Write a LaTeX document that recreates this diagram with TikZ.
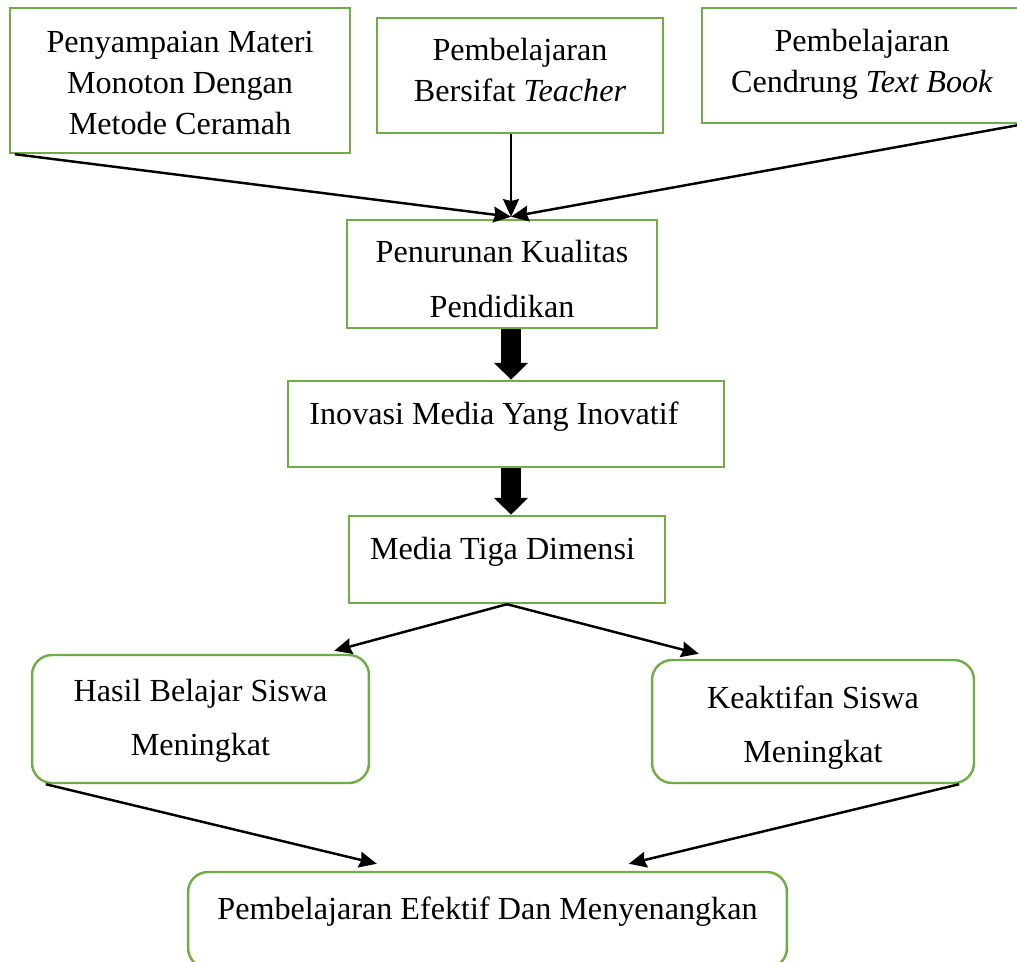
\documentclass[tikz,border=0pt]{standalone}
\usepackage{fontspec}
\setmainfont{Liberation Serif}
\usepackage{tikz}
\usetikzlibrary{arrows.meta,calc,positioning}

\definecolor{boxgreen}{RGB}{112,173,71}

\begin{document}
\begin{tikzpicture}[x=0.02cm, y=-0.02cm,
    box/.style={draw=boxgreen, line width=1.4pt, align=center, inner sep=0pt,
                text height=0.44cm, font=\fontsize{18.3}{23.5}\selectfont},
    wide/.style={font=\fontsize{18.3}{31.3}\selectfont},
    rbox/.style={box, wide, rounded corners=0.4cm},
    thin/.style={line width=1.4pt, -{Stealth[length=10pt,width=9pt,inset=1pt]}},
    fat/.style={line width=0.4cm, -{Triangle[length=0.34cm,width=0.66cm]}}]
                \clip (0,0) rectangle (1017,962);
                \node[box, minimum width=6.8cm, minimum height=2.9cm, text height=2.38cm, text depth=0.2cm] (materi) at (180,80.5) {Penyampaian Materi\\Monoton Dengan\\Metode Ceramah};
                \node[box, minimum width=5.72cm, minimum height=2.3cm, text height=1.26cm, text depth=0.2cm] (teacher) at (520,75.5) {Pembelajaran\\Bersifat \textit{Teacher}};
                \node[box, minimum width=6.4cm, minimum height=2.3cm, text height=1.30cm, text depth=0.2cm] (textbook) at (862,65.5) {Pembelajaran\\Cendrung \textit{Text Book}};
                \node[box, wide, minimum width=6.2cm, minimum height=2.16cm, text height=1.94cm, text depth=0.2cm] (kualitas) at (502,274) {Penurunan Kualitas\\Pendidikan};
                \node[box, minimum width=8.72cm, minimum height=1.72cm, text depth=0.40cm] (inovasi) at (506,424) {Inovasi Media Yang Inovatif\hspace*{0.48cm}};
                \node[box, minimum width=6.32cm, minimum height=1.74cm, text depth=0.46cm] (media) at (507,559.5) {Media Tiga Dimensi\hspace*{0.18cm}};
                \node[rbox, minimum width=6.74cm, minimum height=2.56cm, text height=1.68cm, text depth=0.2cm] (hasil) at (200.5,719) {Hasil Belajar Siswa\\Meningkat};
                \node[rbox, minimum width=6.44cm, minimum height=2.46cm, text height=1.86cm, text depth=0.2cm] (aktif) at (813,721.5) {Keaktifan Siswa\\Meningkat};
                \node[rbox, minimum width=11.98cm, minimum height=1.92cm, text depth=0.48cm] (efektif) at (487.5,920) {Pembelajaran Efektif Dan Menyenangkan};

                \coordinate (meet) at ($(kualitas.north)+(9,-2)$);

                \draw[thin] ($(materi.south west)+(6,0)$) -- (meet);
                \draw[thin] (teacher.south -| meet) -- (meet);
                \draw[thin] (textbook.south east) -- (meet);
                \draw[fat] (kualitas.south -| meet) -- (inovasi.north -| meet);
                \draw[fat] (inovasi.south -| meet) -- (media.north -| meet);
                \draw[thin] (media.south) -- ($(hasil.north east)+(-36,-3)$);
                \draw[thin] (media.south) -- ($(aktif.north west)+(48,-5)$);
                \draw[thin] ($(hasil.south west)+(15,0)$) -- ($(efektif.north west)+(190,-7)$);
                \draw[thin] ($(aktif.south east)+(-16,0)$) -- ($(efektif.north west)+(442,-7)$);
            \end{tikzpicture}
\end{document}
